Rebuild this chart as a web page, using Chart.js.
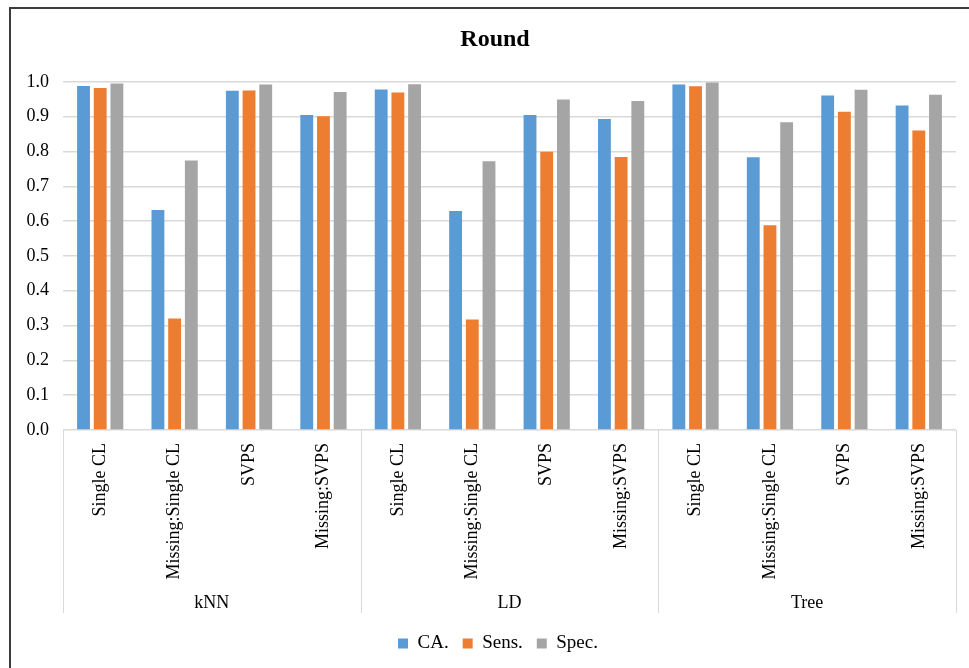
<!DOCTYPE html>
<html>
<head>
<meta charset="utf-8">
<title>Round</title>
<script src="https://cdn.jsdelivr.net/npm/chart.js@4/dist/chart.umd.min.js"></script>
<style>
    html, body { margin: 0; padding: 0; background: #fff; overflow: hidden; }
    .chart-wrap { position: relative; width: 969px; height: 668px; overflow: hidden; }
    .chart-wrap canvas { position: absolute; left: 0; top: 0; }
</style>
</head>
<body>
<div class="chart-wrap">
    <canvas id="roundChart" width="991" height="668"></canvas>
</div>
<script>
// Dados do gráfico
const groups = ['kNN', 'LD', 'Tree'];
const methods = ['Single CL', 'Missing:Single CL', 'SVPS', 'Missing:SVPS'];
const seriesNames = ['CA.', 'Sens.', 'Spec.'];
const caValues   = [0.988, 0.632, 0.974, 0.905, 0.978, 0.629, 0.905, 0.893, 0.992, 0.783, 0.961, 0.932];
const sensValues = [0.982, 0.320, 0.975, 0.901, 0.969, 0.317, 0.799, 0.784, 0.987, 0.588, 0.914, 0.860];
const specValues = [0.995, 0.774, 0.992, 0.971, 0.993, 0.772, 0.949, 0.945, 0.998, 0.884, 0.977, 0.963];
const seriesColors = ['#5B9BD5', '#ED7D31', '#A5A5A5'];

const FONT = '"Liberation Serif", "Times New Roman", serif';
const GRID = '#d9d9d9';

// Uma categoria por método dentro de cada grupo
const labels = [];
groups.forEach(() => methods.forEach(m => labels.push(m)));

// Moldura e fundo
const framePlugin = {
    id: 'frame',
    afterLayout(chart) {
        // título e legenda ficam centrados na moldura inteira, não só até a área do gráfico
        chart.titleBlock.left += 17;
        chart.titleBlock.right += 17;
        chart.legend.left += 20;
        chart.legend.right += 20;
    },
    beforeDraw(chart) {
        const ctx = chart.ctx;
        ctx.save();
        ctx.fillStyle = '#fff';
        ctx.fillRect(0, 0, chart.width, chart.height);
        ctx.strokeStyle = '#3c3c3c';
        ctx.lineWidth = 2;
        ctx.beginPath();
        ctx.moveTo(10, chart.height);
        ctx.lineTo(10, 8);
        ctx.lineTo(chart.width, 8);
        ctx.stroke();
        ctx.restore();
    }
};

// Rótulos de grupo e separadores do eixo x
const groupAxisPlugin = {
    id: 'groupAxis',
    afterDraw(chart) {
        const x = chart.scales.x;
        const ctx = chart.ctx;
        const per = methods.length;
        const step = x.width / labels.length;
        const top = x.top;
        const bottom = x.bottom - 7;

        ctx.save();
        ctx.strokeStyle = GRID;
        ctx.lineWidth = 1;
        for (let g = 0; g <= groups.length; g++) {
            const px = Math.round(x.left + g * per * step) + 0.5;
            ctx.beginPath();
            ctx.moveTo(px, top);
            ctx.lineTo(px, bottom);
            ctx.stroke();
        }

        ctx.fillStyle = '#000';
        ctx.font = '18px ' + FONT;
        ctx.textAlign = 'center';
        ctx.textBaseline = 'middle';
        groups.forEach((name, g) => {
            const first = x.getPixelForValue(g * per);
            const last = x.getPixelForValue(g * per + per - 1);
            ctx.fillText(name, (first + last) / 2, bottom - 10);
        });
        ctx.restore();
    }
};

function makeDataset(name, values, color) {
    return {
        label: name,
        data: values,
        backgroundColor: color,
        borderWidth: 0,
        categoryPercentage: 0.673,
        barPercentage: 0.77
    };
}

new Chart(document.getElementById('roundChart'), {
    type: 'bar',
    data: {
        labels: labels,
        datasets: [
            makeDataset(seriesNames[0], caValues, seriesColors[0]),
            makeDataset(seriesNames[1], sensValues, seriesColors[1]),
            makeDataset(seriesNames[2], specValues, seriesColors[2])
        ]
    },
    options: {
        responsive: false,
        animation: false,
        devicePixelRatio: 1,
        layout: {
            padding: { left: 0, right: 35, top: 0, bottom: 5 }
        },
        plugins: {
            title: {
                display: true,
                text: 'Round',
                color: '#000',
                font: { family: FONT, size: 24, weight: 'bold' },
                padding: { top: 25, bottom: 28 }
            },
            legend: {
                position: 'bottom',
                labels: {
                    color: '#000',
                    font: { family: FONT, size: 19 },
                    boxWidth: 10,
                    boxHeight: 10,
                    padding: 14
                }
            },
            tooltip: { enabled: false }
        },
        scales: {
            x: {
                grid: { display: false, drawTicks: false },
                border: { display: false },
                ticks: {
                    color: '#000',
                    font: { family: FONT, size: 18 },
                    minRotation: 90,
                    maxRotation: 90,
                    autoSkip: false,
                    padding: 13
                },
                afterFit(scale) {
                    scale.height = 190;
                }
            },
            y: {
                min: 0,
                max: 1,
                grid: { color: GRID, lineWidth: 1.5, drawTicks: false },
                border: { display: false },
                ticks: {
                    stepSize: 0.1,
                    color: '#000',
                    font: { family: FONT, size: 18 },
                    padding: 14,
                    callback: v => Number(v).toFixed(1)
                },
                afterFit(scale) {
                    scale.width = 63;
                }
            }
        }
    },
    plugins: [framePlugin, groupAxisPlugin]
});
</script>
</body>
</html>
